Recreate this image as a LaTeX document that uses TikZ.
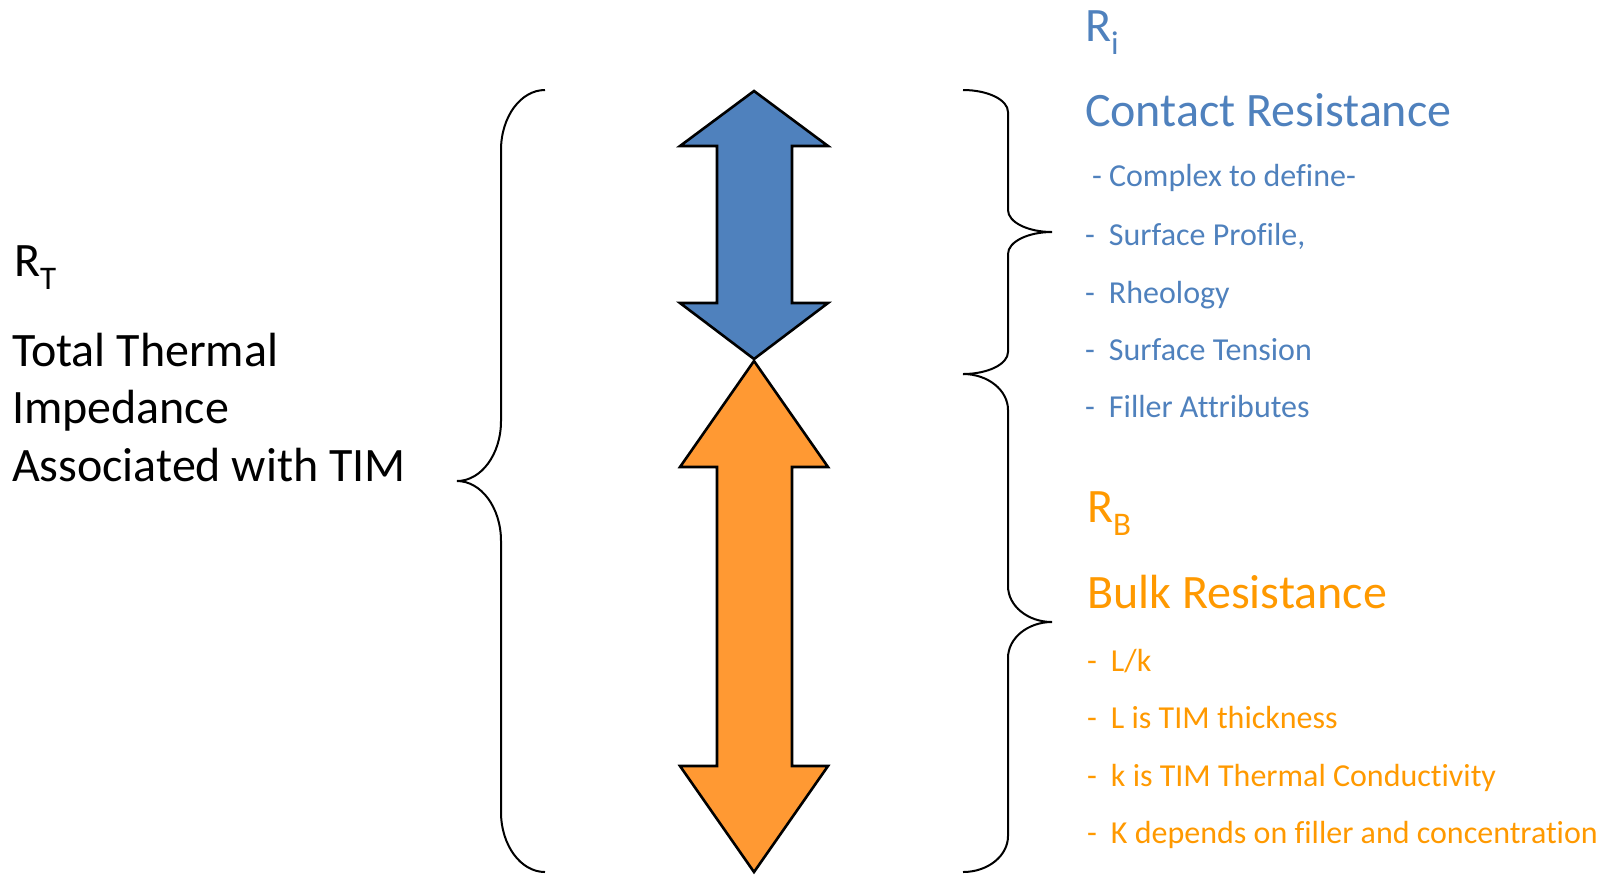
\documentclass[tikz,border=0pt]{standalone}
\usepackage{fontspec}
\setmainfont{Carlito}[Ligatures={CommonOff}]
\definecolor{oblue}{HTML}{4F81BD}
\definecolor{otext}{HTML}{FF9900}
\definecolor{ofill}{HTML}{FF9933}
\newcommand\mysub[1]{\raisebox{-6.5pt}{\fontsize{16.5}{19}\selectfont #1}}
\begin{document}
\begin{tikzpicture}[x=0.5pt,y=0.5pt,
  txt/.style={anchor=base west,inner sep=0pt,outer sep=0pt},
  big/.style={txt,font=\fontsize{24}{28}\selectfont},
  small/.style={txt,font=\fontsize{16}{19}\selectfont},
  brace/.style={draw=black,line width=1pt},
  dblarrow/.style={draw=black,line width=1.3pt,line join=miter}]
\useasboundingbox (0,0) rectangle (1604,-874);

% left text
\node[big] (rt) at (14,-276) {R\mysub{T}};
\node[big] (l1) at (12,-366) {Total Thermal};
\node[big] (l2) at (12,-423) {Impedance};
\node[big] (l3) at (12,-481) {Associated with TIM};

% left brace
\draw[brace] (545,-90) arc[start angle=90,end angle=180,x radius=44,y radius=60]
  -- (501,-421) arc[start angle=0,end angle=-90,x radius=44,y radius=60]
  arc[start angle=90,end angle=0,x radius=44,y radius=60]
  -- (501,-812) arc[start angle=180,end angle=270,x radius=44,y radius=60];

% arrows
\draw[dblarrow,fill=ofill] (754,-361) -- (828,-467) -- (792,-467) -- (792,-766) -- (828,-766)
  -- (754,-872) -- (680,-766) -- (717,-766) -- (717,-467) -- (680,-467) -- cycle;
\draw[dblarrow,fill=oblue] (754,-91) -- (828,-146) -- (792,-146) -- (792,-303) -- (828,-303)
  -- (754,-359) -- (680,-303) -- (717,-303) -- (717,-146) -- (680,-146) -- cycle;

% right brace 1
\draw[brace] (963,-90) arc[start angle=90,end angle=0,x radius=45,y radius=22]
  -- (1008,-210) arc[start angle=180,end angle=270,x radius=44,y radius=22]
  arc[start angle=90,end angle=180,x radius=44,y radius=22]
  -- (1008,-352) arc[start angle=0,end angle=-90,x radius=45,y radius=22];
% right brace 2
\draw[brace] (963,-374) arc[start angle=90,end angle=0,x radius=45,y radius=36]
  -- (1008,-586) arc[start angle=180,end angle=270,x radius=44,y radius=36]
  arc[start angle=90,end angle=180,x radius=44,y radius=36]
  -- (1008,-836) arc[start angle=0,end angle=-90,x radius=45,y radius=36];

% right text, blue
\node[big,text=oblue] (ri) at (1085,-41) {R\mysub{i}};
\node[big,text=oblue] (cr) at (1085,-126) {Contact Resistance};
\node[small,text=oblue] (c0) at (1092,-186) {- Complex to define-};
\node[small,text=oblue] (c1) at (1085,-245) {\makebox[12pt][l]{-}Surface Profile,};
\node[small,text=oblue] (c2) at (1085,-303) {\makebox[12pt][l]{-}Rheology};
\node[small,text=oblue] (c3) at (1085,-360) {\makebox[12pt][l]{-}Surface Tension};
\node[small,text=oblue] (c4) at (1085,-417) {\makebox[12pt][l]{-}Filler Attributes};

% right text, orange
\node[big,text=otext] (rb) at (1087,-522) {R\mysub{B}};
\node[big,text=otext] (br) at (1087,-608) {Bulk Resistance};
\node[small,text=otext] (b1) at (1087,-671) {\makebox[12pt][l]{-}L/k};
\node[small,text=otext] (b2) at (1087,-728) {\makebox[12pt][l]{-}L is TIM thickness};
\node[small,text=otext] (b3) at (1087,-786) {\makebox[12pt][l]{-}k is TIM Thermal Conductivity};
\node[small,text=otext] (b4) at (1087,-843) {\makebox[12pt][l]{-}K depends on filler and concentration};
\end{tikzpicture}
\end{document}
